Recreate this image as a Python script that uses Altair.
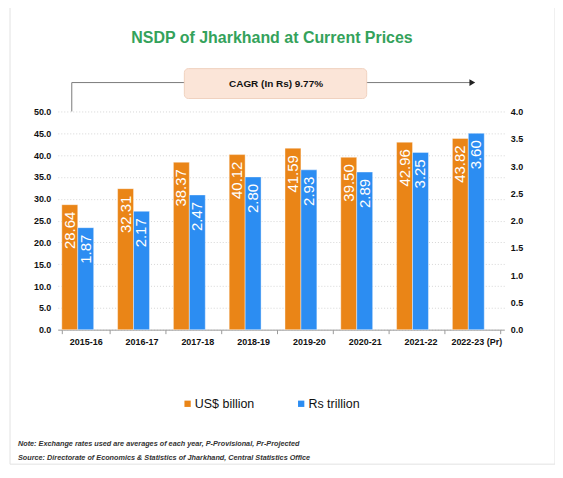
import altair as alt
import pandas as pd

# values
years = ["2015-16", "2016-17", "2017-18", "2018-19", "2019-20", "2020-21", "2021-22", "2022-23 (Pr)"]
usd_billion = [28.64, 32.31, 38.37, 40.12, 41.59, 39.50, 42.96, 43.82]
rs_trillion = [1.87, 2.17, 2.47, 2.80, 2.93, 2.89, 3.25, 3.60]
series_names = ["US$ billion", "Rs trillion"]
left_ticks = [0, 5, 10, 15, 20, 25, 30, 35, 40, 45, 50]
right_ticks = [0, 0.5, 1.0, 1.5, 2.0, 2.5, 3.0, 3.5, 4.0]

title_text = "NSDP of Jharkhand at Current Prices"
cagr_text = "CAGR (In Rs) 9.77%"
note_text = "Note: Exchange rates used are averages of each year, P-Provisional, Pr-Projected"
source_text = "Source: Directorate of Economics & Statistics of Jharkhand, Central Statistics Office"

ORANGE = "#EA8517"
BLUE = "#2C8DF2"
GREEN = "#34A25B"
SANS = "Liberation Sans, Arial, sans-serif"

df = pd.DataFrame({
    "year": years * 2,
    "series": [series_names[0]] * len(years) + [series_names[1]] * len(years),
    "value": usd_billion + rs_trillion,
})

x_enc = alt.X("year:N", sort=years, title=None,
              scale=alt.Scale(paddingInner=0.143, paddingOuter=0.0715),
              axis=alt.Axis(labelAngle=0, labelFont=SANS, labelFontSize=9, labelFontWeight="bold",
                            labelColor="#111", labelPadding=4, tickBand="extent", tickSize=4,
                            tickColor="#9a9a9a", domainColor="#9a9a9a", grid=False))
# third slot stays empty, as in the original clustered layout
off_enc = alt.XOffset("series:N", scale=alt.Scale(domain=series_names + ["CAGR"], paddingInner=0, paddingOuter=0))
col_enc = alt.Color("series:N", title=None,
                    scale=alt.Scale(domain=series_names, range=[ORANGE, BLUE]),
                    legend=alt.Legend(orient="none", legendX=124, legendY=287, direction="horizontal",
                                      symbolType="square", symbolSize=40, symbolStrokeWidth=0,
                                      labelFont=SANS, labelFontSize=12.5, labelColor="#111",
                                      labelOffset=1, columnPadding=40, padding=0))

usd_y = alt.Y("value:Q", title=None,
              scale=alt.Scale(domain=[0, 50], nice=False),
              axis=alt.Axis(orient="left", values=left_ticks, format=".1f", domain=False, ticks=False,
                            labelFont=SANS, labelFontSize=9, labelFontWeight="bold", labelColor="#111",
                            labelPadding=7, grid=True, gridColor="#d6d6d6", gridDash=[1, 2]))
rs_y = alt.Y("value:Q", title=None,
             scale=alt.Scale(domain=[0, 4], nice=False),
             axis=alt.Axis(orient="right", values=right_ticks, format=".1f", domain=False, ticks=False,
                           labelFont=SANS, labelFontSize=9, labelFontWeight="bold", labelColor="#111",
                           labelPadding=6, grid=False))


def series_layer(name, y_enc):
    base = alt.Chart(df).transform_filter(alt.datum.series == name)
    bars = base.mark_bar(stroke="white", strokeWidth=0.4).encode(x=x_enc, xOffset=off_enc, y=y_enc, color=col_enc)
    labels = base.mark_text(angle=270, align="right", baseline="middle", dx=-7, color="white",
                            font=SANS, fontSize=15).encode(
        x=x_enc, xOffset=off_enc, y=y_enc, text=alt.Text("value:Q", format=".2f"))
    return alt.layer(bars, labels)


one = pd.DataFrame({"k": [0]})

card = alt.Chart(one).mark_rect(fill="#ffffff", fillOpacity=0, stroke="#e2e2e2", strokeWidth=1).encode(
    x=alt.value(-48), x2=alt.value(499), y=alt.value(-106), y2=alt.value(354))

title = alt.Chart(pd.DataFrame({"t": [title_text]})).mark_text(
    font=SANS, fontSize=16, fontWeight="bold", color=GREEN, align="center", baseline="alphabetic").encode(
    x=alt.value(215), y=alt.value(-69), text="t:N")

arrow_up = alt.Chart(one).mark_rule(color="#7a7a7a", strokeWidth=1).encode(
    x=alt.value(14), y=alt.value(-29), y2=alt.value(0))
arrow_across = alt.Chart(one).mark_rule(color="#7a7a7a", strokeWidth=1).encode(
    x=alt.value(14), x2=alt.value(414), y=alt.value(-29))
arrow_head = alt.Chart(one).mark_point(shape="triangle-right", filled=True, color="#222", size=45, opacity=1).encode(
    x=alt.value(416), y=alt.value(-29))

box = alt.Chart(one).mark_rect(fill="#FBE5D8", stroke="#f0d2c0", strokeWidth=1, cornerRadius=4).encode(
    x=alt.value(127), x2=alt.value(310), y=alt.value(-43), y2=alt.value(-13))
cagr = alt.Chart(pd.DataFrame({"t": [cagr_text]})).mark_text(
    font=SANS, fontSize=10, fontWeight="bold", color="#111", align="center", baseline="middle").encode(
    x=alt.value(219), y=alt.value(-28), text="t:N")

note = alt.Chart(pd.DataFrame({"t": [note_text]})).mark_text(
    font=SANS, fontSize=7.3, fontWeight="bold", fontStyle="italic", color="#333",
    align="left", baseline="middle").encode(x=alt.value(-40), y=alt.value(334), text="t:N")
source = alt.Chart(pd.DataFrame({"t": [source_text]})).mark_text(
    font=SANS, fontSize=7.3, fontWeight="bold", fontStyle="italic", color="#333",
    align="left", baseline="middle").encode(x=alt.value(-40), y=alt.value(348), text="t:N")

chart = alt.layer(
    card,
    series_layer(series_names[0], usd_y),
    series_layer(series_names[1], rs_y),
    title, arrow_up, arrow_across, arrow_head, box, cagr, note, source,
).resolve_scale(y="independent").properties(
    width=448, height=219,
    autosize=alt.AutoSizeParams(type="none"),
    padding={"left": 50, "top": 103, "right": 51, "bottom": 140},
).configure_view(stroke=None)

chart.save("out.html", embed_options={"renderer": "svg", "actions": False})
